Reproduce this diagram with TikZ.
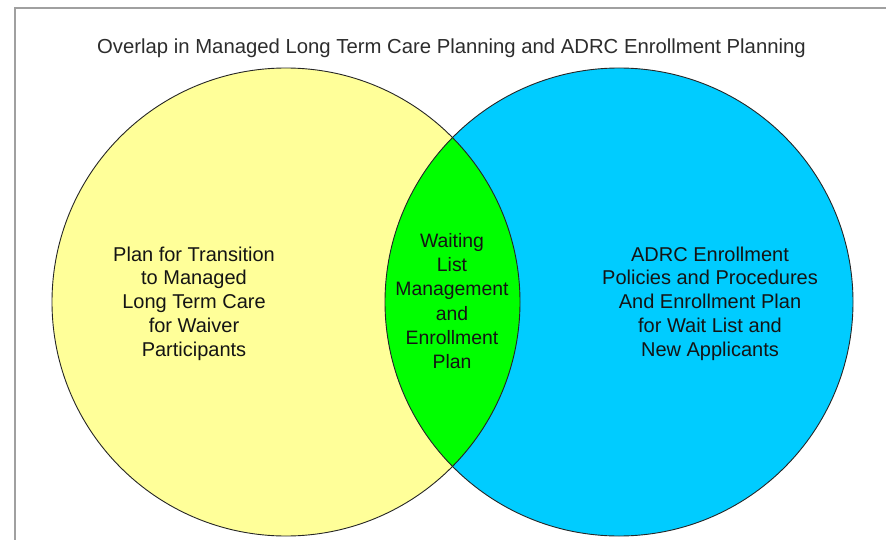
\documentclass[tikz,border=0pt]{standalone}
\usepackage{fontspec}
\setmainfont{Liberation Sans}
\definecolor{setyellow}{RGB}{255,255,153}
\definecolor{setcyan}{RGB}{0,204,255}
\definecolor{setgreen}{RGB}{0,255,0}
\definecolor{framegray}{RGB}{160,160,160}
\definecolor{titlegray}{RGB}{45,45,45}
\begin{document}
\begin{tikzpicture}[x=1pt,y=-1pt,
  outline/.style={draw=black!85,line width=0.9pt},
  label/.style={inner sep=0pt,align=center,text=black!92,
    font=\fontsize{20}{23.8}\selectfont},
  framing/.style={draw=framegray,line width=1.4pt}]
  \useasboundingbox (0,0) rectangle (886,540);
  \fill[white] (0,0) rectangle (886,540);

  % centres of the two sets
  \coordinate (lc) at (286,302);
  \coordinate (rc) at (619,302);

  % outer frame (only its top and left edges fall inside the page)
  \draw[framing] (15,545) -- (15,8) -- (891,8);

  % title
  \node[inner sep=0pt,anchor=base,text=titlegray,
        font=\fontsize{20.3}{24}\selectfont] (title) at (451.5,53.3)
    {Overlap in Managed Long Term Care Planning and ADRC Enrollment Planning};

  % set fills
  \fill[setyellow] (lc) circle[radius=234pt];
  \fill[setcyan] (rc) circle[radius=234pt];
  \begin{scope}
    \clip (lc) circle[radius=234pt];
    \fill[setgreen] (rc) circle[radius=234pt];
  \end{scope}

  % set outlines
  \draw[outline] (lc) circle[radius=234pt];
  \draw[outline] (rc) circle[radius=234pt];

  % set labels
  \node[label,anchor=north] (ltext) at (194,246.5)
    {Plan for Transition\\to Managed\\Long Term Care\\for Waiver\\Participants};
  \node[label,anchor=north,font=\fontsize{19.4}{24.2}\selectfont] (mtext) at (452,233.3)
    {Waiting\\List\\Management\\and\\Enrollment\\Plan};
  \node[label,anchor=north] (rtext) at (710,246.5)
    {ADRC Enrollment\\Policies and Procedures\\And Enrollment Plan\\for Wait List and\\New Applicants};
\end{tikzpicture}
\end{document}
